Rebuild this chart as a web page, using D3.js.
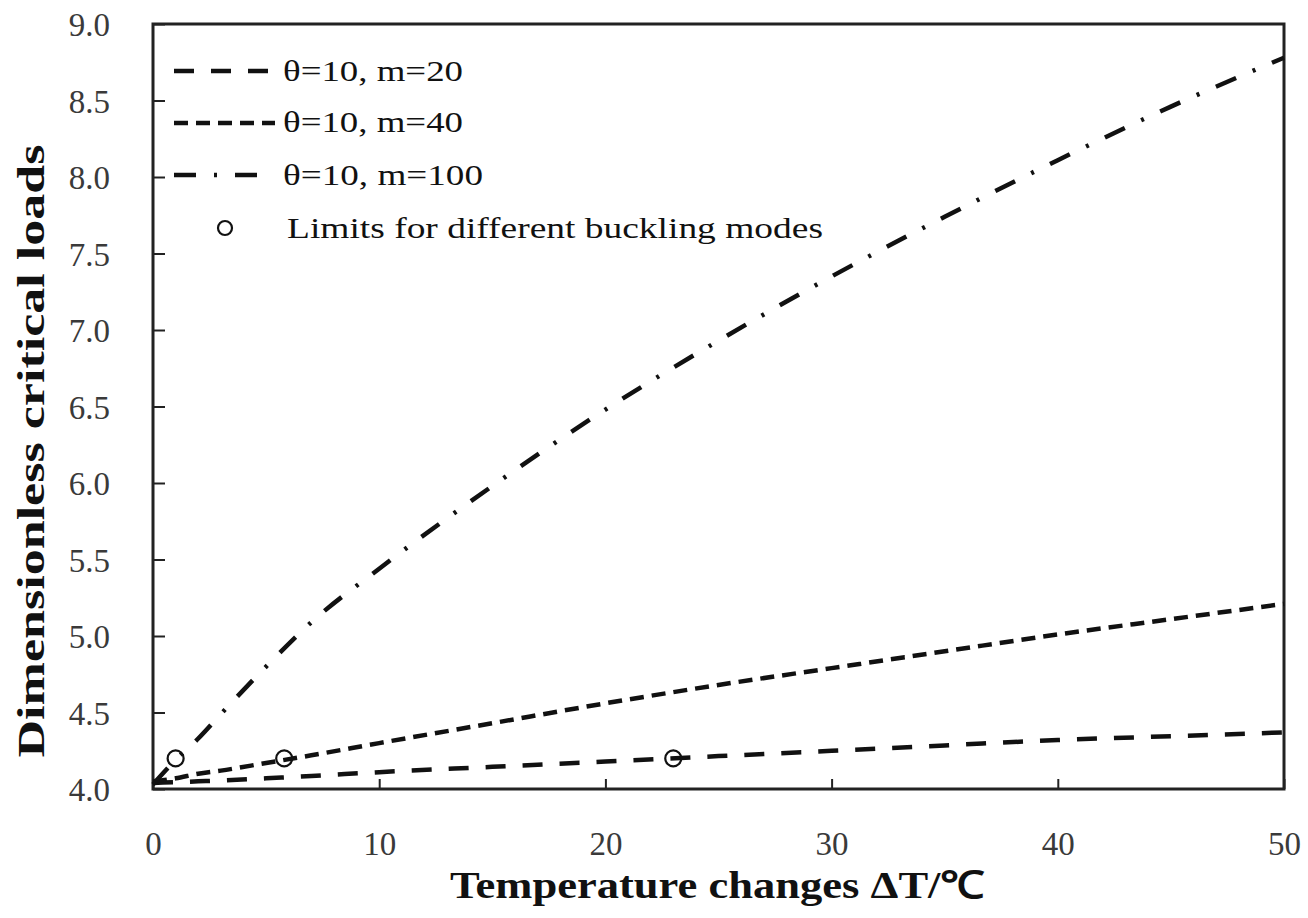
<!DOCTYPE html>
<html>
<head>
<meta charset="utf-8">
<script src="https://cdn.jsdelivr.net/npm/d3@7"></script>
<style>
  html, body { margin: 0; padding: 0; background: #fff; }
  svg { display: block; }
  svg text { font-family: "Liberation Serif", "Times New Roman", Times, serif; }
</style>
</head>
<body>
<svg id="chart" width="1308" height="918"></svg>
<script>
// ---- data ----
const deltaT = [0, 1, 2, 3, 5, 7, 10, 15, 20, 25, 30, 35, 40, 45, 50];
const m20  = [4.04, 4.045, 4.05, 4.055, 4.07, 4.085, 4.11, 4.145, 4.18, 4.215, 4.25, 4.285, 4.32, 4.345, 4.37];
const m40  = [4.05, 4.07, 4.10, 4.12, 4.17, 4.22, 4.30, 4.43, 4.56, 4.68, 4.79, 4.90, 5.01, 5.11, 5.21];
const m100 = [4.03, 4.19, 4.33, 4.49, 4.80, 5.09, 5.44, 5.98, 6.48, 6.93, 7.35, 7.74, 8.11, 8.46, 8.78];
const limitX = [1, 5.8, 23];
const limitY = [4.2, 4.2, 4.2];
const xTicks = [0, 10, 20, 30, 40, 50];
const yTicks = [4.0, 4.5, 5.0, 5.5, 6.0, 6.5, 7.0, 7.5, 8.0, 8.5, 9.0];
const seriesNames = ["θ=10, m=20", "θ=10, m=40", "θ=10, m=100"];
const markerName = "Limits for different buckling modes";
const xTitle = "Temperature changes ΔT/℃";
const yTitle = "Dimensionless  critical loads";

// ---- layout ----
const L = 153, T = 24, R = 1284, B = 789;
const svg = d3.select("#chart");
const x = d3.scaleLinear().domain([0, 50]).range([L, R]);
const y = d3.scaleLinear().domain([4, 9]).range([B, T]);

const serif = '"Liberation Serif", "Times New Roman", Times, serif';
const dashes = ["20,17", "14,8", "22,18,3,18"];

// axes
const xAxis = d3.axisBottom(x).tickValues(xTicks).tickFormat(d3.format("d"))
  .tickSizeInner(-10).tickSizeOuter(0).tickPadding(43);
const yAxis = d3.axisLeft(y).tickValues(yTicks).tickFormat(d3.format(".1f"))
  .tickSizeInner(-12).tickSizeOuter(0).tickPadding(43);

const gx = svg.append("g").attr("transform", `translate(0,${B})`).call(xAxis);
const gy = svg.append("g").attr("transform", `translate(${L},0)`).call(yAxis);
[gx, gy].forEach(g => {
  g.attr("font-family", null);
  g.select(".domain").remove();
  g.selectAll(".tick line").attr("stroke", "#222").attr("stroke-width", 2);
  g.selectAll(".tick text").style("font-family", serif).attr("font-size", 33)
    .attr("fill", "#3a3a3a");
});
gy.selectAll(".tick text").attr("dy", "0.36em");

// frame
svg.append("rect").attr("x", L).attr("y", T).attr("width", R - L).attr("height", B - T)
  .attr("fill", "none").attr("stroke", "#222").attr("stroke-width", 3);

// lines
const line = d3.line().x(d => x(d[0])).y(d => y(d[1])).curve(d3.curveMonotoneX);
[m20, m40, m100].forEach((vals, i) => {
  svg.append("path")
    .datum(deltaT.map((t, k) => [t, vals[k]]))
    .attr("d", line)
    .attr("fill", "none")
    .attr("stroke", "#111")
    .attr("stroke-width", 4.5)
    .attr("stroke-dasharray", dashes[i]);
});

// limit markers
svg.selectAll("circle.limit").data(limitX.map((v, i) => [v, limitY[i]]))
  .enter().append("circle").attr("class", "limit")
  .attr("cx", d => x(d[0])).attr("cy", d => y(d[1])).attr("r", 8)
  .attr("fill", "none").attr("stroke", "#111").attr("stroke-width", 2.2);

// legend
const legRows = [71, 123, 175];
const legBase = [81, 132, 185];
const legLen = [180, 180, 200];
const legSampleEnd = [275, 275, 258];
seriesNames.forEach((name, i) => {
  svg.append("line").attr("x1", 174).attr("x2", legSampleEnd[i])
    .attr("y1", legRows[i]).attr("y2", legRows[i])
    .attr("stroke", "#111").attr("stroke-width", 4.5)
    .attr("stroke-dasharray", dashes[i]);
  svg.append("text").attr("x", 283).attr("y", legBase[i])
    .style("font-family", serif).attr("font-size", 29).attr("fill", "#111")
    .attr("textLength", legLen[i]).attr("lengthAdjust", "spacingAndGlyphs")
    .text(name);
});
svg.append("circle").attr("cx", 225).attr("cy", 228).attr("r", 7)
  .attr("fill", "none").attr("stroke", "#111").attr("stroke-width", 2.2);
svg.append("text").attr("x", 287).attr("y", 238)
  .style("font-family", serif).attr("font-size", 29).attr("fill", "#111")
  .attr("textLength", 536).attr("lengthAdjust", "spacingAndGlyphs")
  .text(markerName);

// axis titles
svg.append("text").attr("x", 450).attr("y", 898)
  .style("font-family", serif).attr("font-size", 38).attr("font-weight", "bold")
  .attr("fill", "#111")
  .attr("textLength", 535).attr("lengthAdjust", "spacingAndGlyphs")
  .text(xTitle);
svg.append("text")
  .attr("transform", "translate(44,451) rotate(-90)")
  .attr("text-anchor", "middle")
  .style("font-family", serif).attr("font-size", 38).attr("font-weight", "bold")
  .attr("fill", "#111")
  .attr("textLength", 613).attr("lengthAdjust", "spacingAndGlyphs")
  .text(yTitle);
</script>
</body>
</html>
